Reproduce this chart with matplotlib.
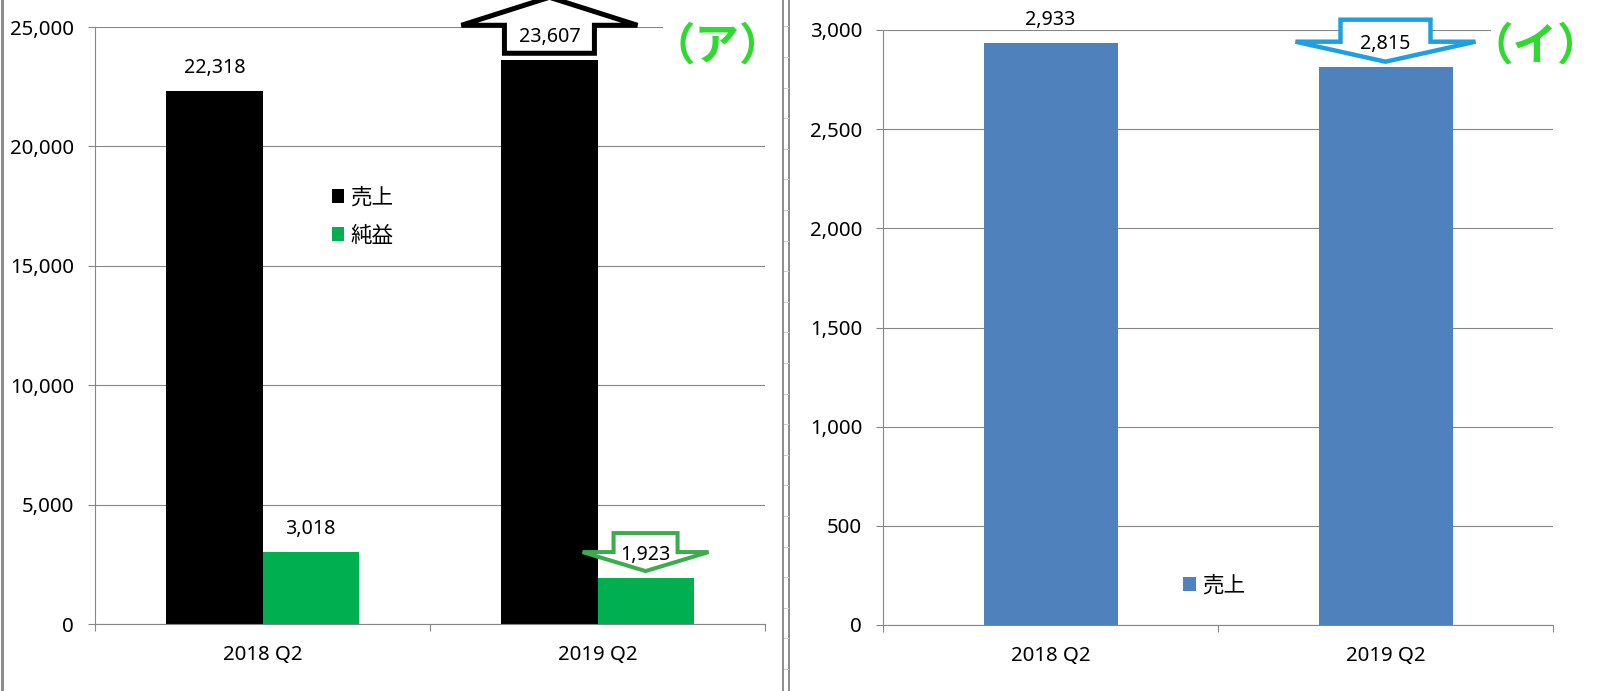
import matplotlib
matplotlib.use('Agg')
import matplotlib.pyplot as plt
import numpy as np
from matplotlib.patches import Polygon, Rectangle
from matplotlib.lines import Line2D
from matplotlib.ticker import FuncFormatter
from matplotlib.transforms import IdentityTransform

plt.rcParams['font.family'] = ['Noto Sans', 'Noto Sans CJK JP']

# データ
quarters = ['2018 Q2', '2019 Q2']
sales_left = [22318, 23607]    # (ア) 売上
profit_left = [3018, 1923]     # (ア) 純益
sales_right = [2933, 2815]     # (イ) 売上
name_sales = '売上'
name_profit = '純益'

W, H = 1603, 691
fig = plt.figure(figsize=(W / 100, H / 100), dpi=100)

GRID = '#868686'


# 画像のピクセル座標からaxesを作る
def px_axes(x0, y0, x1, y1):
    return fig.add_axes([x0 / W, 1 - y1 / H, (x1 - x0) / W, (y1 - y0) / H])


def style_axes(ax, ymax, ystep):
    ax.set_xlim(-0.5, 1.5)
    ax.set_ylim(0, ymax)
    ax.set_yticks(range(0, ymax + 1, ystep))
    ax.yaxis.set_major_formatter(FuncFormatter(lambda v, p: f'{int(v):,}'))
    ax.set_xticks([0, 1])
    ax.set_xticklabels(quarters)
    ax.set_xticks([-0.5, 0.5, 1.5], minor=True)
    ax.tick_params(axis='x', which='major', length=0, pad=15, labelsize=14.7)
    ax.tick_params(axis='x', which='minor', length=5, width=0.8, color=GRID)
    ax.tick_params(axis='y', length=5, width=0.8, color=GRID, pad=10, labelsize=14.7)
    ax.grid(axis='y', color=GRID, linewidth=0.8)
    ax.set_axisbelow(True)
    for s in ['top', 'right']:
        ax.spines[s].set_visible(False)
    for s in ['left', 'bottom']:
        ax.spines[s].set_color(GRID)
        ax.spines[s].set_linewidth(0.8)


def value_labels(ax, xs, vals):
    for xv, v in zip(xs, vals):
        ax.annotate(f'{v:,}', (xv, v), xytext=(0, 23), textcoords='offset pixels',
                    ha='center', va='center', fontsize=14.2, zorder=6)


# 棒の上端を基準にした矢印 (ピクセル単位)
def block_arrow(ax, xc, val, pts, color, lw):
    bx, by = ax.transData.transform((xc, val))
    poly = Polygon([(bx + dx, by + dy) for dx, dy in pts], closed=True,
                   transform=IdentityTransform(), facecolor='white', edgecolor=color,
                   linewidth=lw, joinstyle='miter', zorder=4, clip_on=False)
    ax.add_artist(poly)


x = np.arange(len(quarters))

# 左のグラフ (ア)
ax1 = px_axes(95, 27, 765, 624)
style_axes(ax1, 25000, 5000)
w1 = 0.287
b_sales = ax1.bar(x - w1 / 2, sales_left, w1, color='black', label=name_sales)
b_profit = ax1.bar(x + w1 / 2, profit_left, w1, color='#00b050', label=name_profit)
value_labels(ax1, x - w1 / 2, sales_left)
value_labels(ax1, x + w1 / 2, profit_left)

up = [(-45, 7), (45, 7), (45, 35), (88, 35), (0, 63), (-88, 35), (-45, 35)]
block_arrow(ax1, x[1] - w1 / 2, sales_left[1], up, 'black', 3.6)
down_g = [(-32, 45), (32, 45), (32, 26), (63, 26), (0, 7), (-63, 26), (-32, 26)]
block_arrow(ax1, x[1] + w1 / 2, profit_left[1], down_g, '#3dab4e', 2.9)

ax1.legend(handles=[b_sales, b_profit], loc='center left',
           bbox_to_anchor=(332 / W, 1 - 217 / H), bbox_transform=fig.transFigure,
           frameon=False, fontsize=15.5, handlelength=0.55, handleheight=0.6,
           handletextpad=0.3, labelspacing=0.8, borderpad=0, borderaxespad=0)

# 右のグラフ (イ)
ax2 = px_axes(883, 30, 1553, 625)
style_axes(ax2, 3000, 500)
w2 = 0.40
b_right = ax2.bar(x, sales_right, w2, color='#4f81bd', label=name_sales)
value_labels(ax2, x, sales_right)

down_b = [(-45, 47), (45, 47), (45, 25), (90, 25), (0, 5), (-90, 25), (-45, 25)]
block_arrow(ax2, x[1], sales_right[1], down_b, '#1ea0e0', 3.2)

ax2.legend(handles=[b_right], loc='center left',
           bbox_to_anchor=(1183 / W, 1 - 586 / H), bbox_transform=fig.transFigure,
           frameon=False, fontsize=15.5, handlelength=0.6, handleheight=0.6,
           handletextpad=0.3, borderpad=0, borderaxespad=0)

# (ア)(イ) ラベル: 後ろの一番上の目盛線を白で隠す
for x0, x1 in [(663, 768), (1491, 1560)]:
    fig.add_artist(Rectangle((x0 / W, 1 - 40 / H), (x1 - x0) / W, 22 / H,
                             transform=fig.transFigure, facecolor='white',
                             edgecolor='none', zorder=1))
for lab, cx in [('（ア）', 717), ('（イ）', 1535)]:
    fig.text(cx / W, 1 - 47 / H, lab, color='#30d930', fontsize=32, fontweight='bold',
             ha='center', va='center', family='Noto Sans CJK JP', zorder=2)

# 枠線 (シートの境界)
fig.add_artist(Line2D([1.5 / W, 1.5 / W], [0, 1], color='#8c8c8c', linewidth=2.2))
for rx in [783, 789]:
    fig.add_artist(Line2D([rx / W, rx / W], [0, 1], color='#8c8c8c', linewidth=1.4))
for ry in np.arange(26.3, H, 30.6):
    fig.add_artist(Line2D([784 / W, 788 / W], [1 - ry / H, 1 - ry / H],
                          color='#d0d0d0', linewidth=0.8))

fig.savefig('out.png', dpi=100)
